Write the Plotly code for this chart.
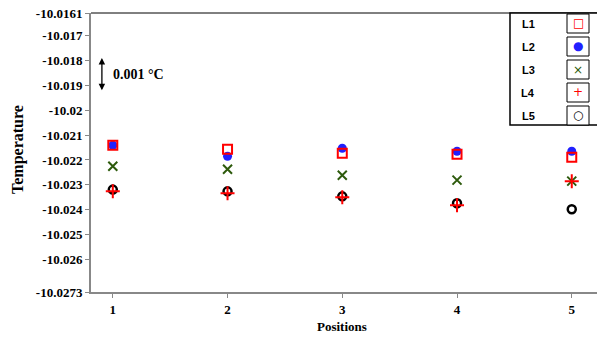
import plotly.graph_objects as go

positions = [1, 2, 3, 4, 5]
series_names = ["L1", "L2", "L3", "L4", "L5"]
L1 = [-10.02141, -10.02157, -10.02173, -10.02177, -10.02189]
L2 = [-10.02141, -10.02185, -10.02153, -10.02165, -10.02165]
L3 = [-10.02225, -10.02237, -10.02261, -10.02281, -10.02285]
L4 = [-10.02326, -10.02334, -10.02350, -10.02382, -10.02285]
L5 = [-10.02319, -10.02326, -10.02346, -10.02374, -10.02398]
y_ticks = [-10.0161, -10.017, -10.018, -10.019, -10.02, -10.021, -10.022,
           -10.023, -10.024, -10.025, -10.026, -10.0273]
y_tick_text = ["-10.0161", "-10.017", "-10.018", "-10.019", "-10.02", "-10.021",
               "-10.022", "-10.023", "-10.024", "-10.025", "-10.026", "-10.0273"]

SERIF = "Liberation Serif, Times New Roman, serif"
styles = {
    "L1": dict(symbol="square-open", color="#ff0000", size=9, line=dict(width=2, color="#ff0000")),
    "L2": dict(symbol="circle", color="#2020ff", size=9, line=dict(width=0)),
    "L3": dict(symbol="x-thin-open", color="#2d5a0c", size=9, line=dict(width=2, color="#2d5a0c")),
    "L4": dict(symbol="cross-thin-open", color="#ff0000", size=10, line=dict(width=2, color="#ff0000")),
    "L5": dict(symbol="circle-open", color="#000000", size=8, line=dict(width=2.5, color="#000000")),
}
data = {"L1": L1, "L2": L2, "L3": L3, "L4": L4, "L5": L5}

fig = go.Figure()
for name in ["L2", "L1", "L3", "L5", "L4"]:
    fig.add_trace(go.Scatter(x=positions, y=data[name], mode="markers", name=name,
                             marker=styles[name], showlegend=False))

W, H = 597, 340
ml, mr, mt, mb = 91, 0, 13, 48
pw, ph = W - ml - mr, H - mt - mb

def px(x):
    return (x - ml) / pw

def py(y):
    return (H - mb - y) / ph

shapes = [
    dict(type="line", xref="paper", yref="paper", x0=0, x1=1, y0=1, y1=1,
         line=dict(color="black", width=1)),
    dict(type="rect", xref="paper", yref="paper", x0=px(510), x1=px(600), y0=py(125), y1=1,
         line=dict(color="black", width=1.5), fillcolor="white", layer="above"),
]
annotations = []
sym_text = {"L1": ("□", "#ff0000"), "L2": ("●", "#2020ff"), "L3": ("×", "#2d5a0c"),
            "L4": ("+", "#ff0000"), "L5": ("○", "#000000")}
for i, name in enumerate(series_names):
    top = 14 + 23 * i
    shapes.append(dict(type="rect", xref="paper", yref="paper", x0=px(567), x1=px(589),
                       y0=py(top + 19), y1=py(top), line=dict(color="black", width=1),
                       fillcolor="white", layer="above"))
    annotations.append(dict(xref="paper", yref="paper", x=px(528), y=py(top + 10), text="<b>%s</b>" % name,
                            showarrow=False, xanchor="center", yanchor="middle",
                            font=dict(family="Arial", size=11, color="black")))
    s, c = sym_text[name]
    annotations.append(dict(xref="paper", yref="paper", x=px(578), y=py(top + 9.5), text=s,
                            showarrow=False, xanchor="center", yanchor="middle",
                            font=dict(family="DejaVu Sans", size=12, color=c)))

# scale arrow
annotations.append(dict(x=0.905, y=-10.0192, ax=0.905, ay=-10.01785, xref="x", yref="y",
                        axref="x", ayref="y", showarrow=True, arrowhead=2, startarrowhead=2,
                        arrowside="end+start", arrowwidth=1.3, arrowsize=1, text="",
                        arrowcolor="black"))
annotations.append(dict(x=0.98, y=-10.01855, xref="x", yref="y", text="<b>0.001 °C</b>",
                        showarrow=False, xanchor="left", yanchor="middle",
                        font=dict(family=SERIF, size=14, color="black")))
annotations.append(dict(xref="paper", yref="paper", x=px(18), y=py(150), text="<b>Temperature</b>",
                        textangle=-90, showarrow=False, xanchor="center", yanchor="middle",
                        font=dict(family=SERIF, size=16, color="black")))
annotations.append(dict(xref="paper", yref="paper", x=px(342), y=py(326), text="<b>Positions</b>",
                        showarrow=False, xanchor="center", yanchor="middle",
                        font=dict(family=SERIF, size=13, color="black")))

fig.update_layout(
    width=W, height=H, margin=dict(l=ml, r=mr, t=mt, b=mb),
    plot_bgcolor="white", paper_bgcolor="white",
    shapes=shapes, annotations=annotations,
    xaxis=dict(range=[0.81, 5.22], tickvals=positions, ticktext=["<b>%d</b>" % p for p in positions],
               showgrid=False, zeroline=False, showline=True, linecolor="#888888", linewidth=2,
               ticks="outside", ticklen=4, tickcolor="#888888",
               tickfont=dict(family=SERIF, size=13, color="black")),
    yaxis=dict(range=[-10.0273, -10.0161], tickvals=y_ticks,
               ticktext=["<b>%s</b>" % t for t in y_tick_text],
               showgrid=False, zeroline=False, showline=True, linecolor="#888888", linewidth=2,
               ticks="outside", ticklen=4, tickcolor="#888888",
               tickfont=dict(family=SERIF, size=13, color="black")),
)
fig.write_html("out.html")
